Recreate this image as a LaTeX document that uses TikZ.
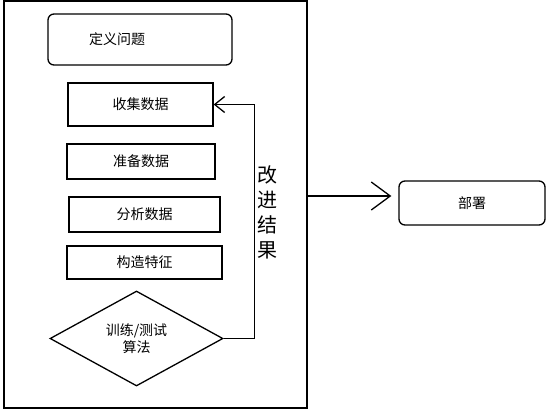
\documentclass[tikz,border=0pt]{standalone}
\usepackage{fontspec}
\newfontfamily\cjk{Noto Sans CJK SC}
\usetikzlibrary{shapes.geometric,arrows.meta,calc}
\begin{document}
\begin{tikzpicture}[x=1pt,y=-1pt,
  procbox/.style={draw, line width=1.3pt, inner sep=0pt, font=\cjk\fontsize{14}{17}\selectfont},
  roundbox/.style={procbox, rounded corners=6pt},
  txt/.style={inner sep=0pt, font=\cjk\fontsize{14}{17}\selectfont},
  bigarrow/.style={line width=1.3pt, -{Straight Barb[length=19pt,width=28pt,line width=1.3pt]}},
  smallarrow/.style={line width=1.3pt, -{Straight Barb[length=10pt,width=16pt,line width=1.3pt]}}]
\useasboundingbox (0,0) rectangle (554,416);
\node[draw, line width=1.5pt, minimum width=303pt, minimum height=407pt, inner sep=0pt] (outer) at (155.5,204.5) {};
\node[roundbox, minimum width=184pt, minimum height=51pt] (def) at (140,39.5) {};
\node[txt] (deftxt) at (117,39) {定义问题};
\node[procbox, minimum width=145pt, minimum height=43pt] (collect) at (140.5,104.5) {收集数据};
\node[procbox, minimum width=148pt, minimum height=35pt] (prep) at (141,161.5) {准备数据};
\node[procbox, minimum width=151pt, minimum height=35pt] (analyze) at (144.5,214.5) {分析数据};
\node[procbox, minimum width=155pt, minimum height=33pt] (feature) at (144.5,262.5) {构造特征};
\node[procbox, diamond, aspect=1.82, minimum width=173pt, minimum height=95pt, align=center] (train) at (136.5,338.5) {训练/测试\\算法};
\node[roundbox, minimum width=146pt, minimum height=44pt] (deploy) at (472,203) {部署};
\node[inner sep=0pt, align=center, font=\cjk\fontsize{20}{25}\selectfont] (improve) at (267,212.5) {改\\进\\结\\果};
\draw[smallarrow] (train.east) -- ++(31,0) |- (collect.east);
\coordinate (tip) at ([xshift=-7pt,yshift=7pt]deploy.west);
\draw[bigarrow] (outer.east |- tip) -- (tip);
\end{tikzpicture}
\end{document}
